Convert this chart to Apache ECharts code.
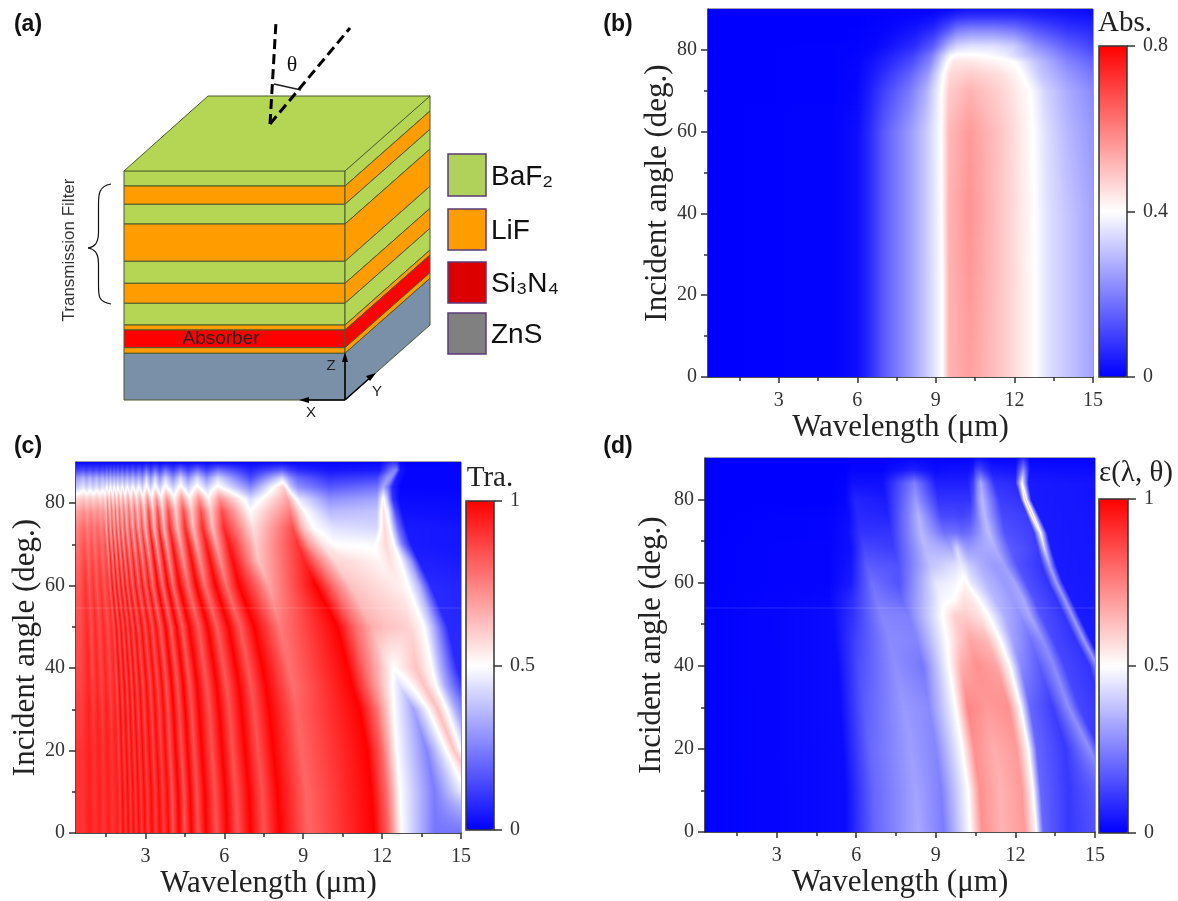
<!DOCTYPE html>
<html><head><meta charset="utf-8"><style>html,body{margin:0;padding:0;background:#fff}#c{width:1178px;height:901px}</style>
<script src="https://cdn.jsdelivr.net/npm/echarts@6/dist/echarts.min.js"></script></head><body><div id="c"></div><script>
// ---------- DATA: rows of (wavelength, value %) stops, one row per incident angle ----------
const wavelengthTicks=[3,6,9,12,15], wavelengthMinorTicks=[1.5,4.5,7.5,10.5,13.5];
const angleTicks=[0,20,40,60,80], angleMinorTicks=[10,30,50,70];
const absTicks=[0,0.4,0.8], traTicks=[0,0.5,1], emiTicks=[0,0.5,1];

const absAngles=[0,20,40,60,70,74,77,78.5,81,85,88,90];
const absWavelength=[
[.3,5,6,6.5,7,8,8.6,9.25,9.5,10.3,11.5,12.8,13.3,14,15.1],
[.3,5,6,6.5,7,8,8.6,9.25,9.5,10.3,11.5,12.8,13.3,14,15.1],
[.3,5,6,6.5,7,8,8.6,9.22,9.5,10.3,11.5,12.78,13.3,14,15.1],
[.3,5,6,6.5,7,8,8.6,9.2,9.5,10.3,11.5,12.72,13.2,14,15.1],
[.3,5,6,6.5,7,8,8.6,9.22,9.5,10.3,11.5,12.6,13.2,14,15.1],
[.3,5,6,6.6,7.1,8,8.7,9.3,9.55,10.3,11.5,12.3,13,14,15.1],
[.3,5,6,6.6,7.2,8.1,8.8,9.45,9.7,10.3,11.2,12,12.9,14,15.1],
[.3,5,6,6.6,7.2,8.1,8.8,9.55,9.8,10.3,11,11.6,12.8,14,15.1],
[.3,5,6,6.7,7.3,8.2,8.9,9.5,9.8,10.3,11.2,12,12.8,14,15.1],
[.3,5,6,6.7,7.3,8.2,8.9,9.5,9.8,10.3,11.2,12,12.8,14,15.1],
[.3,5,6,6.7,7.3,8.2,8.9,9.5,9.8,10.3,11.2,12,12.8,14,15.1],
[.3,5,6,6.7,7.3,8.2,8.9,9.5,9.8,10.3,11.2,12,12.8,14,15.1]];
const absPercent=[
[0,.3,2,7,14,24,31,40,52,55,49,40,35,31,25],
[0,.3,2,7,14,24,31,40,52,56,49,40,35,31,25],
[0,.3,2,7,14,24,31,40,52,57,49,40,35,31,25],
[0,.3,2,7,14,24,31,40,51,56,49,40,35,29,23],
[0,.2,1,5,10,19,27,40,48,52,47,40,33,27,21],
[0,.2,.8,4,8,15,24,40,46,48,45,40,31,24,18],
[0,.2,.6,3,6,12,21,40,44,44,42,40,30,21,15],
[0,.1,.5,2,5,10,19,39,41,41,40,38,28,19,13],
[0,.1,.3,1,3,7,14,28,33,35,35,32,23,15,10],
[0,0,.1,.5,1,3,6,13,18,20,20,18,13,8,6],
[0,0,0,.2,.5,1,2,5,7,8,8,8,6,4,3],
[0,0,0,0,0,.3,.5,1,2,3,3,3,3,2,1]];

const traAngles=[0,10,20,30,36,40,50,60,66,70,74,78,81,84,86,88,90];
const traTop=[.36,.43,.64,.76,.89,1.01,1.14,1.26,1.38,1.46,1.53,1.6,1.67,1.74,1.81,1.88,1.95,2.03,2.12,2.2,2.31,2.41,2.52,2.63,2.75,2.88,3.04,3.2,3.37,3.55,3.76,4.05,4.33,4.62,4.97,5.33,5.75,7];
const traWavelength=[
[.36,.6,.9,1.07,1.25,1.42,1.6,1.78,1.95,2.05,2.15,2.25,2.35,2.45,2.55,2.65,2.75,2.86,2.98,3.1,3.25,3.4,3.55,3.7,3.88,4.05,4.28,4.5,4.75,5,5.3,5.7,6.1,6.5,7,7.5,8.1,9.2,11.7,12.25,12.73,14,16,16.5,17,17.5,18,20],
[.36,.59,.89,1.06,1.24,1.41,1.58,1.76,1.93,2.03,2.13,2.23,2.33,2.43,2.52,2.62,2.72,2.83,2.95,3.07,3.22,3.37,3.51,3.66,3.84,4.01,4.24,4.46,4.7,4.95,5.25,5.64,6.04,6.44,6.93,7.43,8.02,9.11,11.6,12.15,12.68,14,15.2,15.7,16,16.5,17.5,20],
[.36,.58,.87,1.04,1.21,1.38,1.55,1.73,1.89,1.99,2.09,2.18,2.28,2.38,2.47,2.57,2.67,2.77,2.89,3.01,3.15,3.3,3.44,3.59,3.76,3.93,4.15,4.37,4.61,4.85,5.14,5.53,5.92,6.31,6.79,7.28,7.86,8.92,11.45,12,12.55,13.7,14.45,14.75,15,15.4,16.5,20],
[.36,.57,.86,1.02,1.19,1.35,1.52,1.69,1.85,1.95,2.04,2.14,2.23,2.33,2.42,2.52,2.61,2.72,2.83,2.95,3.09,3.23,3.37,3.52,3.69,3.85,4.07,4.28,4.51,4.75,5.04,5.42,5.8,6.18,6.65,7.13,7.7,8.74,11.15,11.75,12.45,13.2,13.75,14.1,14.45,14.8,15.6,20],
[.36,.56,.84,1,1.17,1.33,1.5,1.66,1.82,1.92,2.01,2.1,2.2,2.29,2.38,2.48,2.57,2.67,2.79,2.9,3.04,3.18,3.32,3.46,3.63,3.79,4,4.21,4.44,4.68,4.96,5.33,5.7,6.08,6.55,7.01,7.57,8.6,10.85,11.45,12.4,12.65,13.1,13.6,14.05,14.4,15.1,20],
[.36,.55,.83,.98,1.15,1.31,1.47,1.64,1.79,1.89,1.98,2.07,2.16,2.25,2.35,2.44,2.53,2.63,2.74,2.85,2.99,3.13,3.27,3.4,3.57,3.73,3.94,4.14,4.37,4.6,4.88,5.24,5.61,5.98,6.44,6.9,7.45,8.46,10.7,11.3,12.3,12.45,12.6,13.3,13.9,14.2,14.85,20],
[.36,.53,.79,.94,1.1,1.25,1.41,1.57,1.72,1.8,1.89,1.98,2.07,2.16,2.24,2.33,2.42,2.52,2.62,2.73,2.86,2.99,3.12,3.26,3.41,3.56,3.77,3.96,4.18,4.4,4.66,5.02,5.37,5.72,6.16,6.6,7.13,8.1,10.3,10.95,11.6,12.2,12.8,13.1,13.6,13.95,14.5,20],
[.36,.49,.73,.87,1.01,1.15,1.3,1.44,1.58,1.66,1.74,1.82,1.9,1.98,2.07,2.15,2.23,2.32,2.41,2.51,2.63,2.75,2.88,3,3.14,3.28,3.47,3.65,3.85,4.05,4.29,4.62,4.94,5.27,5.67,6.08,6.56,7.7,9.5,10.1,10.8,11.6,12.3,12.7,13,13.4,13.85,20],
[.36,.47,.7,.83,.98,1.11,1.25,1.39,1.52,1.6,1.68,1.76,1.83,1.91,1.99,2.07,2.15,2.23,2.32,2.42,2.54,2.65,2.77,2.89,3.03,3.16,3.34,3.51,3.71,3.9,4.13,4.45,4.76,5.07,5.46,5.85,6.32,7.3,9.05,9.6,10.2,11,11.9,12.3,12.7,13.1,13.4,20],
[.36,.46,.68,.81,.95,1.08,1.22,1.35,1.48,1.56,1.63,1.71,1.79,1.86,1.94,2.01,2.09,2.17,2.26,2.36,2.47,2.58,2.7,2.81,2.95,3.08,3.25,3.42,3.61,3.8,4.03,4.33,4.64,4.94,5.32,5.7,6.16,7.2,8.8,9.2,9.7,10.1,11.7,12.15,12.45,12.75,13.1,20],
[.36,.44,.67,.79,.93,1.05,1.18,1.32,1.44,1.52,1.59,1.67,1.74,1.81,1.89,1.96,2.04,2.12,2.21,2.29,2.41,2.52,2.63,2.74,2.87,3,3.17,3.33,3.52,3.7,3.92,4.22,4.51,4.81,5.18,5.55,5.99,7.1,8.6,9,9.4,10.2,11.8,12.1,12.3,12.6,12.9,20],
[.36,.44,.66,.78,.91,1.04,1.17,1.3,1.42,1.5,1.57,1.64,1.72,1.79,1.86,1.93,2.01,2.09,2.18,2.26,2.37,2.48,2.59,2.7,2.83,2.96,3.12,3.29,3.47,3.65,3.87,4.16,4.45,4.75,5.11,5.48,5.91,6.98,8.5,8.8,9.05,10,11.8,12.05,12.25,12.5,12.75,20],
[.36,.43,.65,.77,.9,1.02,1.15,1.28,1.4,1.48,1.55,1.62,1.69,1.76,1.84,1.91,1.98,2.06,2.15,2.23,2.34,2.45,2.56,2.66,2.79,2.92,3.08,3.24,3.42,3.6,3.82,4.1,4.39,4.68,5.04,5.4,5.83,7,8.4,8.65,8.85,10,11.8,12.05,12.2,12.4,12.65,20],
[...traTop,8.25,8.5,8.8,10,11.8,12.05,12.2,12.4,12.7,20],
[...traTop,8.2,8.5,8.8,10,11.8,12.2,12.35,12.55,12.8,20],
[...traTop,8.2,8.5,8.8,10,11.9,12.4,12.55,12.7,13,20],
[...traTop,8.2,8.5,8.8,10,11.9,12.4,12.55,12.7,13,20]];
const traPercent=[
[90,90,94,90,94,90,94,90,94,88,98,88,98,88,98,88,98,88,98,88,98,88,98,88,98,84,100,84,100,84,100,84,100,84,100,84,100,80,100,80,50,23,22,60,50,35,8,2],
[90,90,94,90,94,90,94,90,94,88,98,88,98,88,98,88,98,88,98,88,98,88,98,88,98,84,100,84,100,84,100,84,100,84,100,84,100,80,100,80,50,24,50,62,50,35,8,2],
[90,90,94,90,94,90,94,90,94,87,98,87,98,87,98,87,98,87,98,87,98,87,98,87,98,84,100,84,100,84,100,84,100,84,100,84,100,80,100,80,50,26,50,62,50,35,8,2],
[88,88,94,88,94,88,94,88,94,86,98,86,98,86,98,86,98,86,98,86,98,86,98,86,98,84,100,84,100,84,100,84,100,84,100,84,100,80,100,80,50,32,50,63,50,33,8,2],
[87,87,93,87,93,87,93,87,93,85,98,85,98,85,98,85,98,85,98,85,98,85,98,85,98,83,100,83,100,83,100,83,100,83,100,83,100,78,100,80,50,44,50,62,50,33,8,2],
[86,86,93,86,93,86,93,86,93,85,98,85,98,85,98,85,98,85,98,85,98,85,98,85,98,83,100,83,100,83,100,83,100,83,100,83,100,78,100,80,53,50,52,62,50,35,8,2],
[85,85,92,85,92,85,92,85,92,84,97,84,97,84,97,84,97,84,97,84,97,84,97,84,97,82,100,82,100,82,100,82,100,82,100,82,100,76,100,80,66,62,60,58,50,35,8,2],
[83,83,90,83,90,83,90,83,90,80,96,80,96,80,96,80,96,80,96,80,96,80,96,80,96,78,100,78,100,78,100,78,100,78,100,78,100,68,100,80,62,58,55,53,50,36,8,2],
[80,80,87,80,87,80,87,80,87,75,93,75,93,75,93,75,93,75,93,75,93,75,93,75,93,72,98,72,98,72,98,72,98,72,98,72,98,62,93,75,58,56,52,56,50,30,6,2],
[78,78,84,78,84,78,84,78,84,70,90,70,90,70,90,70,90,70,90,70,90,70,90,70,90,68,96,68,96,68,96,68,96,68,96,68,96,60,90,70,56,50,49,58,50,25,5,1],
[75,75,80,75,80,75,80,75,80,66,85,66,85,66,85,66,85,66,85,66,85,66,85,66,85,63,92,63,92,63,92,63,92,63,92,63,92,56,85,62,50,44,42,58,50,22,5,1],
[68,68,72,68,72,68,72,68,72,62,78,62,78,62,78,62,78,62,78,62,78,62,78,62,78,60,85,60,85,60,85,60,85,60,85,60,85,50,75,60,50,36,38,56,45,15,3,1],
[58,58,62,58,62,58,62,58,62,55,68,55,68,55,68,55,68,55,68,55,68,55,68,55,68,52,72,52,72,52,72,52,72,52,72,52,72,43,68,55,45,28,32,52,38,10,2,1],
[40,40,45,40,45,40,45,40,45,42,50,42,50,42,50,42,50,42,50,42,50,42,50,42,50,40,52,40,52,40,52,40,52,40,52,40,52,26,60,40,28,17,22,33,25,7,1,0],
[30,30,35,30,35,30,35,30,35,30,35,30,35,30,35,30,35,30,35,30,35,30,35,30,35,28,42,28,42,28,42,28,42,28,42,28,42,14,42,28,20,10,13,30,28,5,1,0],
[12,12,15,12,15,12,15,12,15,12,18,12,18,12,18,12,18,12,18,12,18,12,18,12,18,12,22,12,22,12,22,12,22,12,22,12,22,7,18,12,8,4,5,25,25,4,1,0],
[1,1,1,1,1,1,1,1,1,1,1,1,1,1,1,1,1,1,1,1,1,1,1,1,1,1,1,1,1,1,1,1,1,1,1,1,1,1,1,1,1,1,1,10,8,1,0,0]];

const emiAngles=[0,10,20,30,40,46,52,56,60,64,68,72,76,80,84,87,90];
const emiWavelength=[
[.3,5.6,6.7,8.35,9.3,10.3,10.75,11.5,12.35,12.8,13.05,14,15.9,16.2,16.8,17,17.2,20],
[.3,5.6,6.65,8.25,9.2,10.22,10.65,11.45,12.25,12.67,12.95,14,15.5,15.8,16.5,16.7,16.9,20],
[.3,5.5,6.5,8.05,9,10,10.45,11.2,12.05,12.5,12.8,13.9,14.8,15.2,15.9,16.1,16.3,20],
[.3,5.4,6.3,7.8,8.75,9.75,10.2,10.9,11.75,12.2,12.55,13.4,14,14.4,15.2,15.7,15.95,20],
[.3,5.3,6.1,7.45,8.5,9.5,9.95,10.55,11.3,11.8,12.2,12.9,13.45,13.85,14.8,15.1,15.35,20],
[.3,5.2,6,7.25,8.3,9.42,9.85,10.3,10.95,11.45,11.9,12.6,13.05,13.45,14.3,14.6,14.85,20],
[.3,5.1,5.9,6.95,8,9.35,9.75,10.15,10.65,11,11.6,12.2,12.55,12.95,13.85,14.15,14.4,20],
[.3,5,5.8,6.75,7.7,9.2,9.7,10.05,10.4,10.6,11.2,11.9,12.3,12.7,13.55,13.85,14.1,20],
[.3,5,5.8,6.6,7.6,9,9.7,10.1,10.2,10.3,10.9,11.6,12,12.4,13.25,13.55,13.8,20],
[.3,5,5.8,6.4,7.6,8.8,9.75,9.95,10.1,10.25,10.7,11.2,11.6,12.1,13,13.3,13.55,20],
[.3,5,5.8,6.3,7.4,8.6,9.6,9.8,10,10.2,10.6,10.9,11.25,11.8,12.85,13.1,13.35,20],
[.3,5,5.7,6.15,7.3,8.45,9.3,9.75,10,10.3,10.6,10.85,11,11.6,12.7,12.95,13.2,20],
[.3,5,5.7,6.05,7.2,8.35,9.2,9.7,10,10.3,10.5,10.7,10.85,11.5,12.45,12.65,12.9,20],
[.3,5,5.6,5.95,7.1,8.25,9.1,9.6,10,10.3,10.45,10.6,10.75,11.4,12.2,12.38,12.6,20],
[.3,5,5.6,5.85,7,8.2,9,9.5,9.9,10.2,10.4,10.55,10.7,11.2,12,12.25,12.5,20],
[.3,5,5.6,5.85,7,8.15,9,9.5,9.9,10.2,10.4,10.5,10.65,11.1,12,12.3,12.55,20],
[.3,5,5.6,5.85,7,8.15,9,9.5,9.9,10.2,10.4,10.5,10.65,11.1,12,12.3,12.55,20]];
const emiPercent=[
[0,2,20,33,24,50,72,65,70,50,20,11,20,10,10,10,10,10],
[0,2,20,32,25,50,72,65,70,50,20,11,22,10,10,10,10,10],
[0,2,20,31,26,50,72,66,70,50,20,11,28,10,10,10,10,10],
[0,2,18,30,27,50,74,70,72,50,20,12,28,14,10,28,5,5],
[0,2,15,28,23,50,66,72,68,50,27,18,27,14,10,30,4,3],
[0,2,13,27,26,50,60,68,64,50,32,22,28,14,10,30,5,2],
[0,2,10,26,25,52,60,60,56,50,34,28,33,16,10,30,5,2],
[0,1.5,8,24,20,48,50,56,54,50,36,30,33,16,10,30,5,2],
[0,1,5,22,16,45,48,52,50,46,36,30,32,16,10,31,5,2],
[0,1,4,18,16,38,44,46,44,40,34,30,31,16,10,32,5,1],
[0,1,3,14,12,36,33,42,34,30,32,33,34,18,12,42,5,1],
[0,.5,3,10,10,36,22,22,20,22,28,34,37,16,12,50,5,1],
[0,.5,2,8,7,35,14,14,13,15,22,32,36,14,12,60,5,1],
[0,0,1,7,5,30,10,10,10,10,18,30,36,12,10,62,5,1],
[0,0,.5,3,3,25,6,6,6,6,12,25,33,10,8,50,5,1],
[0,0,0,1,1,6,2,3,3,3,5,12,14,5,4,28,3,1],
[0,0,0,0,0,1,1,1,1,1,1,2,3,1,1,8,1,0]];

// schematic of panel (a): layer stack from top to bottom
const stackNames=['BaF2','LiF','BaF2','LiF','BaF2','LiF','BaF2','LiF','Si3N4','LiF','ZnS'];
const stackThickness=[15.3,18.3,19.7,37.3,22,20,21.7,5,17.7,5.6,46.7];
const materials=['BaF₂','LiF','Si₃N₄','ZnS'];

// ---------- STYLE ----------
const RAMP=['#0000ff','#ffffff','#ff0000'];
const SERIF='"Liberation Serif","Times New Roman",serif', SANS='"Liberation Sans",Arial,sans-serif';
const INK='#333';
const stackColor={BaF2:'#b5d655',LiF:'#ff9c00',Si3N4:'#ff0000',ZnS:'#7a8fa8'};
const swatchColor=['#b0d25a','#ff9c00','#dd0000','#808080'];

function ramp(v,vmax){
  const t=Math.max(0,Math.min(1,v/vmax));
  if(t<.5){const c=Math.round(510*t);return `rgb(${c},${c},255)`;}
  const c=Math.round(510*(1-t));return `rgb(255,${c},${c})`;
}
// one band between two angle rows, painted through the axes as 1px strips with horizontal gradient fills
function bandRenderer(p){
  return function(params,api){
    const i=api.value(2), A=p.wl[i],B=p.wl[i+1],VA=p.val[i],VB=p.val[i+1];
    const yBot=Math.round(api.coord([15,p.angles[i]])[1]), yTop=Math.round(api.coord([15,p.angles[i+1]])[1]);
    const kids=[];
    for(let y=yTop;y<yBot;y++){
      const t=(yBot-y-.5)/(yBot-yTop);
      const xs=A.map((a,k)=>api.coord([a+(B[k]-a)*t,0])[0]);
      const vs=VA.map((a,k)=>(a+(VB[k]-a)*t)/100);
      const x0=xs[0],w=xs[xs.length-1]-x0,stops=[],mid=p.vmax/2;
      xs.forEach((x,k)=>{
        if(k>0&&(vs[k-1]-mid)*(vs[k]-mid)<0){
          const f=(mid-vs[k-1])/(vs[k]-vs[k-1]);
          stops.push({offset:Math.min(1,(xs[k-1]+(x-xs[k-1])*f-x0)/w),color:'#ffffff'});
        }
        stops.push({offset:Math.min(1,(x-x0)/w),color:ramp(vs[k],p.vmax)});
      });
      kids.push({type:'rect',shape:{x:x0,y:y,width:w,height:1},
        style:{fill:new echarts.graphic.LinearGradient(0,0,1,0,stops)},silent:true});
    }
    return {type:'group',children:kids,silent:true};
  };
}

const panels=[
 {angles:absAngles,wl:absWavelength,val:absPercent,vmax:.8,xMin:.3,ticks:absTicks,
  grid:{left:708,top:9,width:385,height:368},bar:{left:1099,top:46,width:28,height:331},ng:33,yg:35},
 {angles:traAngles,wl:traWavelength,val:traPercent,vmax:1,xMin:.36,ticks:traTicks,
  grid:{left:76,top:462,width:385,height:371},bar:{left:466,top:501,width:28,height:329},ng:31,yg:32},
 {angles:emiAngles,wl:emiWavelength,val:emiPercent,vmax:1,xMin:.3,ticks:emiTicks,
  grid:{left:705,top:458,width:390,height:374},bar:{left:1099,top:499,width:29,height:334},ng:35,yg:38}
];
const axisLine={show:true,onZero:false,lineStyle:{color:INK,width:1.5}};
const tickLine={color:INK,width:1.5};
const grids=[],xAxes=[],yAxes=[],series=[],visualMaps=[];
panels.forEach(p=>{
  const g=grids.length;
  grids.push({...p.grid,outerBoundsMode:'none',show:true,borderColor:'#444',borderWidth:1,backgroundColor:'transparent'});
  const seriesX=xAxes.length, seriesY=yAxes.length;
  xAxes.push({gridIndex:g,type:'value',min:p.xMin,max:15,position:'bottom',name:'Wavelength (μm)',nameLocation:'middle',nameGap:p.ng,
    nameTextStyle:{fontFamily:SERIF,fontSize:31,color:'#222'},axisLine,splitLine:{show:false},
    axisTick:{show:true,length:6,customValues:wavelengthTicks,lineStyle:tickLine},
    axisLabel:{customValues:wavelengthTicks,fontFamily:SERIF,fontSize:20,color:INK,margin:14}});
  xAxes.push({gridIndex:g,type:'value',min:p.xMin,max:15,position:'bottom',axisLine:{show:false,onZero:false},splitLine:{show:false},
    axisTick:{show:true,length:4,customValues:wavelengthMinorTicks,lineStyle:tickLine},axisLabel:{show:false}});
  yAxes.push({gridIndex:g,type:'value',min:0,max:90,position:'left',name:'Incident angle (deg.)',nameLocation:'middle',nameGap:p.yg,
    nameTextStyle:{fontFamily:SERIF,fontSize:31,color:'#222'},axisLine,splitLine:{show:false},
    axisTick:{show:true,length:7,customValues:angleTicks,lineStyle:tickLine},
    axisLabel:{customValues:angleTicks,fontFamily:SERIF,fontSize:20,color:INK,margin:11}});
  yAxes.push({gridIndex:g,type:'value',min:0,max:90,position:'left',axisLine:{show:false,onZero:false},splitLine:{show:false},
    axisTick:{show:true,length:4,customValues:angleMinorTicks,lineStyle:tickLine},axisLabel:{show:false}});
  series.push({type:'custom',name:'map'+g,xAxisIndex:seriesX,yAxisIndex:seriesY,clip:true,silent:true,progressive:0,animation:false,
    data:p.angles.slice(0,-1).map((a,i)=>[a,p.angles[i+1],i]),encode:{y:[0,1]},renderItem:bandRenderer(p)});
  // colour bar: visualMap bar framed by its own small axis
  visualMaps.push({show:true,type:'continuous',seriesIndex:[],min:0,max:p.vmax,calculable:false,hoverLink:false,padding:0,z:1,
    left:p.bar.left,top:p.bar.top,itemWidth:p.bar.width,itemHeight:p.bar.height,inRange:{color:RAMP}});
  const cg=grids.length;
  grids.push({left:p.bar.left,top:p.bar.top,width:p.bar.width,height:p.bar.height,outerBoundsMode:'none',show:true,borderColor:'#333',borderWidth:1.5,backgroundColor:'transparent',z:5});
  xAxes.push({gridIndex:cg,type:'value',min:0,max:1,show:false});
  yAxes.push({gridIndex:cg,type:'value',min:0,max:p.vmax,position:'right',z:6,axisLine:{show:false,onZero:false},splitLine:{show:false},
    axisTick:{show:true,length:8,customValues:p.ticks,lineStyle:tickLine},
    axisLabel:{customValues:p.ticks,fontFamily:SERIF,fontSize:20,color:INK,margin:16}});
});

// panel (a) stack, drawn through a hidden pixel-like axis pair
const sg=grids.length;
grids.push({left:0,top:0,width:590,height:430,outerBoundsMode:'none'});
xAxes.push({gridIndex:sg,type:'value',min:0,max:590,show:false});
yAxes.push({gridIndex:sg,type:'value',min:0,max:430,inverse:true,show:false});
let edge=170.7;
const stackData=stackThickness.map((h,i)=>{const r=[edge,edge+h,i];edge+=h;return r;});
series.push({type:'custom',name:'stack',xAxisIndex:xAxes.length-1,yAxisIndex:yAxes.length-1,silent:true,animation:false,data:stackData,encode:{y:[0,1]},
  renderItem(params,api){
    const y0=api.value(0),y1=api.value(1),col=stackColor[stackNames[api.value(2)]];
    const P=(x,y)=>api.coord([x,y]);
    const style={fill:col,stroke:'#4b5a2e',lineWidth:1};
    return {type:'group',children:[
      {type:'polygon',shape:{points:[P(124,y0),P(345,y0),P(345,y1),P(124,y1)]},style},
      {type:'polygon',shape:{points:[P(345,y0),P(430,y0-75),P(430,y1-75),P(345,y1)]},style}]};
  }});

const g=[];
const T=(text,x,y,o={})=>g.push({type:'text',x,y,rotation:o.rot||0,silent:true,z:20,style:{text,fill:o.color||'#111',
  font:`${o.weight||'normal'} ${o.size||20}px ${o.family||SANS}`,align:o.align||'center',verticalAlign:'middle'}});
const L=(x1,y1,x2,y2,o={})=>g.push({type:'line',silent:true,z:o.z||20,shape:{x1,y1,x2,y2},style:{stroke:o.color||'#000',lineWidth:o.w||1.5,lineDash:o.dash||null}});
const C=(x1,y1,cpx1,cpy1,cpx2,cpy2,x2,y2)=>g.push({type:'bezierCurve',silent:true,z:20,shape:{x1,y1,cpx1,cpy1,cpx2,cpy2,x2,y2},style:{fill:null,stroke:'#111',lineWidth:1.2}});
[['(a)',28,25],['(b)',618,25],['(c)',28,447],['(d)',618,447]].forEach(a=>T(a[0],a[1],a[2],{size:23,weight:'bold',color:'#111'}));
g.push({type:'polygon',silent:true,z:3,shape:{points:[[124,171],[345,171],[430,96],[208,96]]},style:{fill:stackColor.BaF2,stroke:'#4b5a2e',lineWidth:1}});
// legend of panel (a)
[[154,42],[209,41],[262,41],[313,41]].forEach((b,i)=>{
  g.push({type:'rect',silent:true,z:5,shape:{x:448,y:b[0],width:38,height:b[1]},style:{fill:swatchColor[i],stroke:'#5b3a7a',lineWidth:1.5}});
  T(materials[i],491,b[0]+b[1]/2+2,{size:28,align:'left',color:'#111'});
});
// incidence lines
L(270,124,276,22,{w:3,dash:[10,5]});
L(270,124,350,28,{w:3,dash:[10,5]});
L(274,84,301,90,{w:1.5,color:'#222'});
T('θ',292,65,{size:22,family:SERIF});
// brace and labels
C(111,184,98,186,98.5,196,98.5,206);L(98.5,206,98.5,232,{w:1.2,color:'#111'});C(98.5,232,98.5,244,94,247,88,248);
C(88,248,94,249,98.5,252,98.5,264);L(98.5,264,98.5,284,{w:1.2,color:'#111'});C(98.5,284,98.5,296,98,302,111,304);
T('Transmission Filter',69,250,{size:17,rot:Math.PI/2,color:'#333'});
T('Absorber',221,339,{size:19,color:'#222'});
T('Z',331,366,{size:15,color:'#222'});T('Y',377,392,{size:15,color:'#222'});T('X',311,413,{size:15,color:'#222'});
// axes arrows of the block
L(345,400,345,357,{w:1.5});L(345,400,372,376,{w:1.5});L(345,400,304,400,{w:1.5});
g.push({type:'polygon',silent:true,z:21,shape:{points:[[345,352],[342,362],[348,362]]},style:{fill:'#000'}});
g.push({type:'polygon',silent:true,z:21,shape:{points:[[376,373],[366,376],[370,381]]},style:{fill:'#000'}});
g.push({type:'polygon',silent:true,z:21,shape:{points:[[299,400],[309,397],[309,403]]},style:{fill:'#000'}});
// faint horizontal seam visible in panels (c) and (d)
L(76,608,461,608,{w:1,color:'rgba(255,255,255,0.14)'});
L(705,608,1095,608,{w:1,color:'rgba(255,255,255,0.14)'});
// colour bar titles
T('Abs.',1125,23,{size:29,family:SERIF,color:'#222'});
T('Tra.',490,478,{size:29,family:SERIF,color:'#222'});
T('ε(λ, θ)',1136,473,{size:29,family:SERIF,color:'#222'});

const chart=echarts.init(document.getElementById('c'),null,{renderer:'canvas',width:1178,height:901});
chart.setOption({animation:false,backgroundColor:'#fff',grid:grids,xAxis:xAxes,yAxis:yAxes,visualMap:visualMaps,series,graphic:{elements:g}});
</script></body></html>
